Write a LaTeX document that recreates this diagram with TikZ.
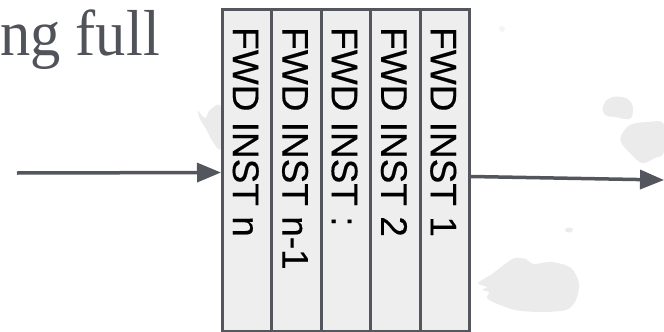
\documentclass[tikz,border=0pt]{standalone}
\usepackage{fontspec}
\setmainfont{Liberation Serif}
\newfontfamily\labelfont[FakeBold=0.35]{Liberation Sans}
\usetikzlibrary{arrows.meta}
\definecolor{ink}{HTML}{54565D}
\definecolor{titlegray}{HTML}{51535A}
\definecolor{cellfill}{HTML}{EEEEEE}
\definecolor{smudge}{HTML}{EBEBEB}
\begin{document}
\begin{tikzpicture}[x=1pt,y=-1pt,
  cell/.style={draw=ink, line width=3pt, fill=cellfill, minimum width=49.4pt,
    minimum height=322pt, inner sep=0pt, anchor=north west},
  celltext/.style={rotate=-90, anchor=west, inner sep=0pt,
    font=\labelfont\fontsize{37}{40}\selectfont, text=black},
  flow/.style={draw=ink, line width=3.5pt, -{Triangle[length=24pt,width=19pt]}},
  blob/.style={fill=smudge, draw=none}]
\useasboundingbox (0,0) rectangle (664,332);

% soft paint smudges in the background
\fill[blob] plot[smooth cycle, tension=0.7] coordinates {(603,106) (610,98) (622,97) (631,102) (633,112) (629,119) (615,117) (605,115)};
\fill[blob] plot[smooth cycle, tension=0.6] coordinates {(621,136) (630,125) (648,122) (664,124) (664,152) (655,158) (642,163) (630,153) (622,144)};
\fill[blob] plot[smooth cycle, tension=0.5] coordinates {(478,283) (492,274) (505,264) (515,258) (526,259) (533,264) (552,262) (571,268) (579,283) (576,300) (566,310) (540,312) (515,310) (495,303) (487,298) (489,292) (482,290) (487,287)};
\fill[blob] plot[smooth cycle, tension=0.6] coordinates {(198,111) (205,118) (210,110) (221,107) (221,148) (213,142) (206,129) (200,119)};
\fill[blob] (569,230) ellipse (4 and 2.5);
\fill[smudge!50!white] (502,29) circle (3);

% partial heading
\node[anchor=base east, inner sep=0pt, text=titlegray, xscale=0.93, transform shape,
  font=\fontsize{65}{70}\selectfont] (title) at (160,55) {ng full};

% stack of forwarded instructions
\foreach \i/\t [count=\k from 0] in {cn/FWD INST n, cm/FWD INST n-1, cd/FWD INST :, ctwo/FWD INST 2, cone/FWD INST 1}{
  \node[cell] (\i) at (221+49.4*\k, 8) {};
  \node[celltext] (\i-t) at (245.7+49.4*\k, 27) {\t};
}

% incoming and outgoing flow
\coordinate (src) at (17,173);
\coordinate (dst) at (664,180);
\draw[flow] (src) -- ([yshift=-2pt]cn.west);
\draw[flow] ([yshift=-6pt]cone.east) -- (dst);
\end{tikzpicture}
\end{document}
